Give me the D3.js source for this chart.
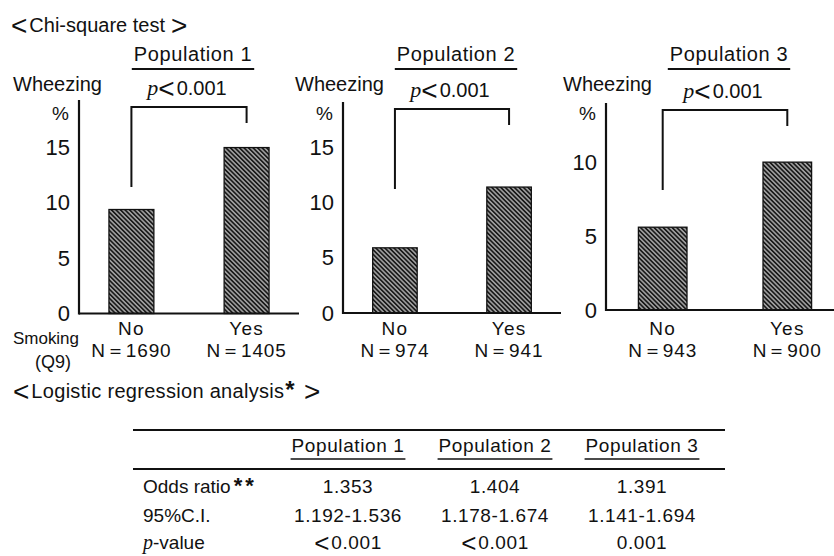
<!DOCTYPE html>
<html>
<head>
<meta charset="utf-8">
<script src="https://cdn.jsdelivr.net/npm/d3@7"></script>
<style>
  html, body { margin: 0; padding: 0; background: #fff; }
  svg { display: block; }
  text { font-family: "Liberation Sans", Arial, Helvetica, sans-serif; fill: #111; }
  .ital { font-family: "Liberation Serif", "Times New Roman", serif; font-style: italic; }
</style>
</head>
<body>
<svg id="chart" width="834" height="556"></svg>
<script>
// ---- data ----
const populations = ["Population 1", "Population 2", "Population 3"];
const smokingGroups = ["No", "Yes"];
const wheezeNo  = [9.4, 5.9, 5.6];    // % wheezing, non-smokers
const wheezeYes = [15.0, 11.4, 10.0]; // % wheezing, smokers
const sampleNo  = [1690, 974, 943];
const sampleYes = [1405, 941, 900];
const chiSquareP = ["<0.001", "<0.001", "<0.001"];
const yTicks = [[0, 5, 10, 15], [0, 5, 10, 15], [0, 5, 10]];
const yMax = [19.3, 19.1, 14.0];

const oddsRatio = [1.353, 1.404, 1.391];
const ciLower = [1.192, 1.178, 1.141];
const ciUpper = [1.536, 1.674, 1.694];
const pValueText = ["<0.001", "<0.001", "0.001"];

// ---- panel geometry ----
const panelLayout = [
  { axisX: 79,  top: 100, base: 313.5, width: 220, wheezeX: 13  },
  { axisX: 343, top: 102, base: 313,   width: 218, wheezeX: 295 },
  { axisX: 606, top: 103, base: 310,   width: 238, wheezeX: 563 }
];

const svg = d3.select("#chart");

// Writes a string into a <text>, setting angle brackets and asterisks
// larger and sitting on the baseline, as the wide typeface does.
function writeText(sel, str, bracketSize, closeGap = 2) {
  const parts = str.split(/([<>*])/).filter(s => s.length);
  let shifted = 0;
  parts.forEach(s => {
    const ts = sel.append("tspan").text(s);
    if (shifted) { ts.attr("dy", -shifted); shifted = 0; }
    if (s === "<" || s === ">") {
      ts.style("font-size", bracketSize + "px").attr("dy", 2.5).attr("dx", s === ">" ? closeGap : 0);
      shifted = 2.5;
      if (s === "<") ts.style("letter-spacing", "2px");
    } else if (s === "*") {
      ts.style("font-size", "24px").style("font-weight", "bold").attr("dx", 1);
    }
  });
  return sel;
}

// diagonal hatch for the bars
const defs = svg.append("defs");
const pat = defs.append("pattern")
  .attr("id", "hatch")
  .attr("patternUnits", "userSpaceOnUse")
  .attr("width", 3.2).attr("height", 3.2)
  .attr("patternTransform", "rotate(-45)");
pat.append("rect").attr("width", 3.2).attr("height", 3.2).attr("fill", "#a0a0a0");
pat.append("line").attr("x1", 0.8).attr("x2", 0.8).attr("y1", 0).attr("y2", 3.2)
  .attr("stroke", "#1a1a1a").attr("stroke-width", 1.7);

// section heading
writeText(svg.append("text").attr("x", 11).attr("y", 32).style("font-size", "20px"),
  "<Chi-square test>", 28, 6);

populations.forEach((pop, i) => {
  const L = panelLayout[i];
  const g = svg.append("g");

  const y = d3.scaleLinear().domain([0, yMax[i]]).range([L.base, L.top]);
  const x = d3.scaleBand().domain(smokingGroups)
    .range([L.axisX, L.axisX + L.width])
    .paddingInner(0.61).paddingOuter(0.26);

  const values = [wheezeNo[i], wheezeYes[i]];
  const ns = [sampleNo[i], sampleYes[i]];

  // bars
  g.selectAll("rect.bar").data(smokingGroups).join("rect")
    .attr("class", "bar")
    .attr("x", d => x(d))
    .attr("width", x.bandwidth())
    .attr("y", (d, k) => y(values[k]))
    .attr("height", (d, k) => y(0) - y(values[k]))
    .attr("fill", "url(#hatch)")
    .attr("stroke", "#111").attr("stroke-width", 1.3);

  // y axis (line + labels, no tick marks)
  const yAxis = d3.axisLeft(y).tickValues(yTicks[i]).tickSize(0).tickPadding(9)
    .tickFormat(d3.format("d"));
  const ya = g.append("g").attr("transform", `translate(${L.axisX},0)`).call(yAxis);
  ya.select(".domain").remove();
  ya.selectAll("text").style("font-size", "22px").style("font-family", null).attr("fill", "#111");
  g.append("line")
    .attr("x1", L.axisX).attr("x2", L.axisX)
    .attr("y1", L.top).attr("y2", y(0) + 1)
    .attr("stroke", "#111").attr("stroke-width", 2.2);

  // baseline
  g.append("line")
    .attr("x1", L.axisX).attr("x2", x.range()[1])
    .attr("y1", y(0)).attr("y2", y(0))
    .attr("stroke", "#111").attr("stroke-width", 2.2);

  // axis captions
  g.append("text").attr("x", L.wheezeX).attr("y", 91)
    .style("font-size", "20px").text("Wheezing");
  g.append("text").attr("x", L.axisX - 10).attr("y", 120)
    .attr("text-anchor", "end").style("font-size", "19px").text("%");

  // significance bracket between bar centres
  const cNo = x("No") + x.bandwidth() / 2;
  const cYes = x("Yes") + x.bandwidth() / 2;
  const bTop = L.top + 7;
  g.append("path")
    .attr("d", `M${cNo},${bTop + 80}V${bTop}H${cYes}V${bTop + 16}`)
    .attr("fill", "none").attr("stroke", "#111").attr("stroke-width", 2);

  const pt = g.append("text").attr("x", (cNo + cYes) / 2 - 2).attr("y", bTop - 12)
    .attr("text-anchor", "middle").style("font-size", "20px");
  pt.append("tspan").attr("class", "ital").style("font-size", "22px").text("p");
  writeText(pt, chiSquareP[i], 28);

  // population title with underline
  const cx = (cNo + cYes) / 2 + 4;
  const tt = g.append("text").attr("x", cx).attr("y", 61)
    .attr("text-anchor", "middle").style("font-size", "20px")
    .style("letter-spacing", "0.6px").text(pop);
  const tw = tt.node().getComputedTextLength();
  g.append("line")
    .attr("x1", cx - tw / 2 - 2).attr("x2", cx + tw / 2 + 2)
    .attr("y1", 69).attr("y2", 69)
    .attr("stroke", "#111").attr("stroke-width", 1.8);

  // category labels and sample sizes
  g.selectAll("text.cat").data(smokingGroups).join("text")
    .attr("class", "cat")
    .attr("x", d => x(d) + x.bandwidth() / 2).attr("y", 335)
    .attr("text-anchor", "middle").style("font-size", "19px")
    .style("letter-spacing", "1.2px").text(d => d);
  g.selectAll("text.n").data(smokingGroups).join("text")
    .attr("class", "n")
    .attr("x", d => x(d) + x.bandwidth() / 2).attr("y", 357)
    .attr("text-anchor", "middle").style("font-size", "19px")
    .style("letter-spacing", "0.9px").text((d, k) => "N＝" + ns[k]);
});

// x-axis caption of first panel
svg.append("text").attr("x", 13).attr("y", 344)
  .style("font-size", "17px").attr("textLength", 66).text("Smoking");
svg.append("text").attr("x", 35).attr("y", 368)
  .style("font-size", "18px").text("(Q9)");

// ---- logistic regression table ----
writeText(svg.append("text").attr("x", 13).attr("y", 398).style("font-size", "20px")
  .style("letter-spacing", "0.3px"),
  "<Logistic regression analysis*>", 28, 9);

const tableLeft = 133, tableRight = 725;
const colX = d3.scalePoint().domain(populations).range([348, 642]);
const fmt = d3.format(".3f");

svg.append("line").attr("x1", tableLeft).attr("x2", tableRight)
  .attr("y1", 430).attr("y2", 430).attr("stroke", "#111").attr("stroke-width", 1.8);
svg.append("line").attr("x1", tableLeft).attr("x2", tableRight)
  .attr("y1", 469).attr("y2", 469).attr("stroke", "#111").attr("stroke-width", 1.8);

populations.forEach(pop => {
  const t = svg.append("text").attr("x", colX(pop)).attr("y", 452)
    .attr("text-anchor", "middle").style("font-size", "19px")
    .style("letter-spacing", "0.6px").text(pop);
  const w = t.node().getComputedTextLength();
  svg.append("line").attr("x1", colX(pop) - w / 2 - 1).attr("x2", colX(pop) + w / 2 + 1)
    .attr("y1", 459).attr("y2", 459).attr("stroke", "#111").attr("stroke-width", 1.6);
});

const rowLabels = [
  { y: 493, parts: [["", "Odds ratio"], ["ast", "**"]] },
  { y: 522, parts: [["", "95%C.I."]] },
  { y: 549, parts: [["ital", "p"], ["", "-value"]] }
];
rowLabels.forEach(r => {
  const t = svg.append("text").attr("x", 143).attr("y", r.y).style("font-size", "19px");
  r.parts.forEach(([cls, s]) => {
    const ts = t.append("tspan").text(s);
    if (cls === "ital") ts.attr("class", "ital").style("font-size", "20px");
    if (cls === "ast") ts.style("font-size", "22px").style("letter-spacing", "3px")
      .style("font-weight", "bold").attr("dx", 3);
  });
});

const rowValues = [
  populations.map((p, i) => fmt(oddsRatio[i])),
  populations.map((p, i) => fmt(ciLower[i]) + "-" + fmt(ciUpper[i])),
  pValueText
];
rowValues.forEach((vals, r) => {
  populations.forEach((pop, i) => {
    const t = svg.append("text")
      .attr("x", colX(pop)).attr("y", rowLabels[r].y)
      .attr("text-anchor", "middle").style("font-size", "19px")
      .style("letter-spacing", "0.6px");
    writeText(t, vals[i], 26);
  });
});
</script>
</body>
</html>
